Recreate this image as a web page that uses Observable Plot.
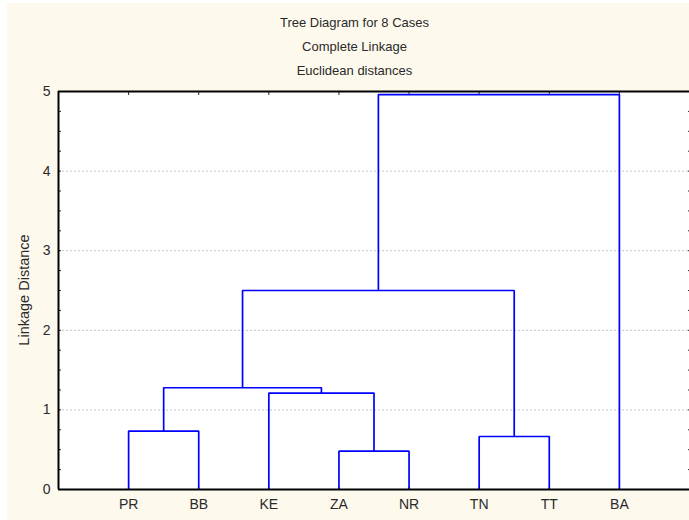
<!DOCTYPE html>
<html><head><meta charset="utf-8">
<script src="https://cdn.jsdelivr.net/npm/d3@7"></script>
<script src="https://cdn.jsdelivr.net/npm/@observablehq/plot@0.6"></script>
<style>
html,body{margin:0;padding:0;background:#fff;}
#wrap{position:relative;width:689px;height:520px;overflow:hidden;font-family:"Liberation Sans",Arial,sans-serif;color:#2a2a2a;}
#bg{position:absolute;left:7px;top:3px;right:0;bottom:0;background:#fdf9ed;}
.t{position:absolute;left:20px;right:0;text-align:center;font-size:13px;line-height:15px;}
#ylab{position:absolute;left:24px;top:290px;transform:translate(-50%,-50%) rotate(-90deg);white-space:nowrap;font-size:14.5px;}
#chart{position:absolute;left:0;top:0;}
</style></head><body>
<div id="wrap">
<div id="bg"></div>
<div class="t" style="top:15px">Tree Diagram for 8 Cases</div>
<div class="t" style="top:39px">Complete Linkage</div>
<div class="t" style="top:63px">Euclidean distances</div>
<div id="ylab">Linkage Distance</div>
<div id="chart"></div>
</div>
<script>
// Leaves in display order
const leaves = ["PR", "BB", "KE", "ZA", "NR", "TN", "TT", "BA"];
// Merge steps: clusters joined (members separated by "+") and linkage distance
const mergeA = ["PR", "ZA", "TN", "KE", "PR+BB", "PR+BB+KE+ZA+NR", "PR+BB+KE+ZA+NR+TN+TT"];
const mergeB = ["BB", "NR", "TT", "ZA+NR", "KE+ZA+NR", "TN+TT", "BA"];
const mergeHeight = [0.734, 0.482, 0.666, 1.211, 1.278, 2.5, 4.96];
// Axis ticks
const yTicks = [0, 1, 2, 3, 4, 5];
const yGrid = [1, 2, 3, 4];
const yMinor = d3.range(0, 5.001, 0.25);

// Build node positions
const node = new Map();
leaves.forEach((l, i) => node.set(l, {x: i + 1, h: 0}));
const links = [];
mergeA.forEach((a, i) => {
  const b = mergeB[i], h = mergeHeight[i];
  const na = node.get(a), nb = node.get(b);
  links.push({id: i, x: na.x, y: na.h}, {id: i, x: na.x, y: h}, {id: i, x: nb.x, y: h}, {id: i, x: nb.x, y: nb.h});
  node.set(a + "+" + b, {x: (na.x + nb.x) / 2, h});
});
const xPos = leaves.map((d, i) => i + 1);

const chart = Plot.plot({
  width: 689, height: 520,
  marginLeft: 58, marginRight: 0, marginTop: 91, marginBottom: 31,
  style: {background: "transparent", fontFamily: "Liberation Sans, Arial, sans-serif", fontSize: "14px", color: "#2a2a2a"},
  x: {domain: [0, 9], axis: null},
  y: {domain: [0, 5], axis: null},
  marks: [
    Plot.frame({fill: "white", stroke: null}),
    Plot.ruleY(yGrid, {stroke: "#c4c4c4", strokeDasharray: "2,2", strokeWidth: 1}),
    Plot.axisY({ticks: yMinor, tickSize: -3, tickFormat: () => "", label: null}),
    Plot.axisY({anchor: "right", ticks: yMinor, tickSize: -2, tickFormat: () => "", label: null}),
    Plot.axisY({ticks: yTicks, tickSize: 0, tickPadding: 8, fontSize: 14, tickFormat: d3.format("d"), label: null}),
    Plot.axisX({anchor: "top", ticks: xPos, tickSize: -3, tickFormat: () => "", label: null}),
    Plot.axisX({ticks: xPos, tickSize: -2, tickPadding: 12, tickFormat: i => leaves[i - 1], fontSize: 14, label: null}),
    Plot.line(links, {x: "x", y: "y", z: "id", stroke: "#0000ff", strokeWidth: 1.7, strokeLinejoin: "miter", strokeLinecap: "butt"}),
    Plot.ruleX([0], {strokeWidth: 2, stroke: "#000"}),
    Plot.ruleY([0], {strokeWidth: 2, stroke: "#000"}),
    Plot.ruleY([5], {strokeWidth: 2, stroke: "#000"})
  ]
});
document.getElementById("chart").appendChild(chart);
</script>
</body></html>
